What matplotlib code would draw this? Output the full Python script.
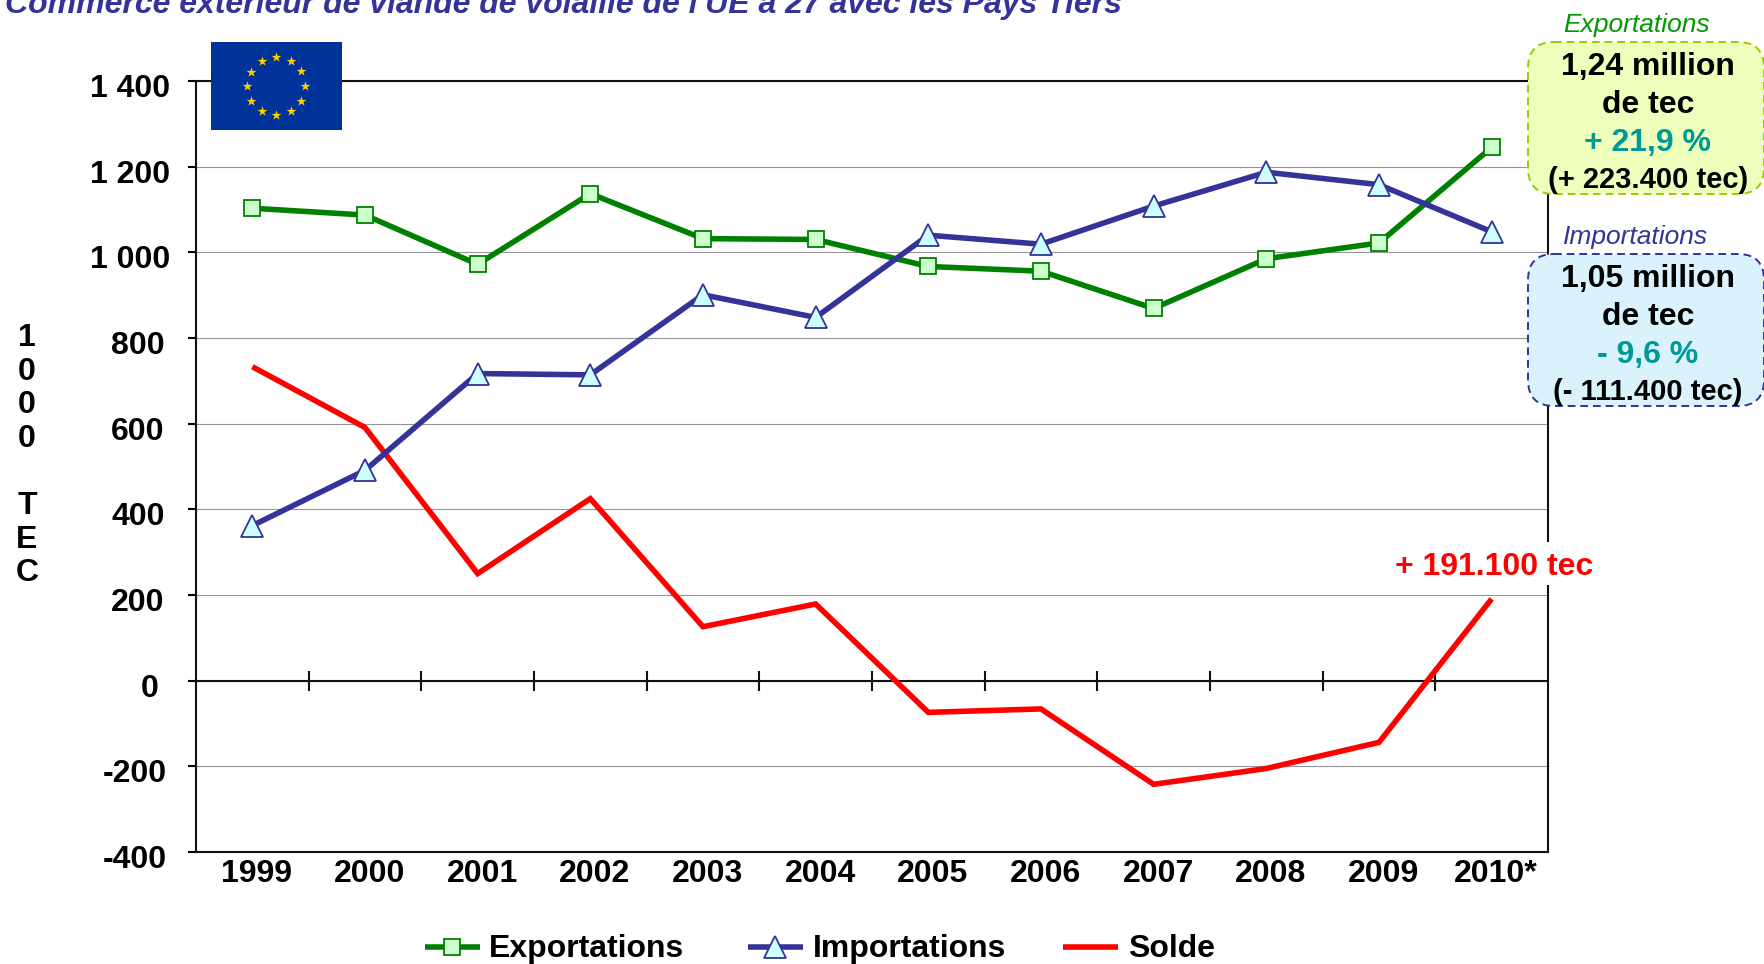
import numpy as np
import matplotlib
matplotlib.use('Agg')
import matplotlib.pyplot as plt
from matplotlib.patches import FancyBboxPatch, Rectangle
from matplotlib.lines import Line2D
from matplotlib.transforms import ScaledTranslation

plt.rcParams['font.family'] = ['Liberation Sans', 'DejaVu Sans']
plt.rcParams['font.weight'] = 'bold'

# ============= data =============
years = ['1999', '2000', '2001', '2002', '2003', '2004', '2005', '2006', '2007', '2008', '2009', '2010*']
exportations = [1103, 1087, 972, 1137, 1032, 1030, 967, 956, 869, 985, 1022, 1245]
importations = [362, 491, 717, 714, 901, 848, 1040, 1019, 1108, 1187, 1158, 1048]
solde = [733, 591, 250, 425, 126, 179, -74, -66, -242, -205, -144, 191]
y_ticks = [-400, -200, 0, 200, 400, 600, 800, 1000, 1200, 1400]
y_labels = ['-400', '-200', '0', '200', '400', '600', '800', '1 000', '1 200', '1 400']

# horizontal nudge of each y label, pixels (the original labels are not right aligned)
y_nudge = [2, 2, -6.5, 0, 0, 0, 0, 5.5, 5.5, 5.5]

W, H = 1764, 964
GREEN = '#008000'
BLUE = '#333399'
RED = '#ff0000'
TEAL = '#009999'
LW = 4.0

fig = plt.figure(figsize=(W / 100, H / 100), dpi=100)

# main axes, placed in pixels
left, right, top, bottom = 196, 1548, 81, 852
ax = fig.add_axes([left / W, 1 - bottom / H, (right - left) / W, (bottom - top) / H])
x = np.arange(len(years))
ax.set_xlim(-0.5, len(years) - 0.5)
ax.set_ylim(-400, 1400)

ax.yaxis.grid(True, color='#959595', linewidth=0.8)
ax.set_axisbelow(True)
for s in ['top', 'right', 'left', 'bottom']:
    ax.spines[s].set_linewidth(1.5)
    ax.spines[s].set_color('#111111')

ax.set_yticks(y_ticks)
ax.set_yticklabels(y_labels, fontsize=23, fontweight='bold')
ax.tick_params(axis='y', length=5.5, width=1.5, pad=17)
ax.set_xticks(x)
ax.set_xticklabels(years, fontsize=23, fontweight='bold')
ax.tick_params(axis='x', length=0, pad=5)

# labels sit a little off their ticks in the original
for lbl, dx in zip(ax.get_yticklabels(), y_nudge):
    lbl.set_transform(lbl.get_transform() + ScaledTranslation(dx / 100, -4.5 / 100, fig.dpi_scale_trans))
for lbl in ax.get_xticklabels():
    lbl.set_transform(lbl.get_transform() + ScaledTranslation(4.5 / 100, 0, fig.dpi_scale_trans))

# zero line with its ticks between the categories
ax.axhline(0, color='#111111', linewidth=1.5, zorder=2)
for b in np.arange(0.5, len(years) - 1):
    ax.plot([b, b], [-21, 21], color='#111111', linewidth=1.5, zorder=2)

ax.plot(x, exportations, color=GREEN, linewidth=LW, marker='s', markersize=11.5,
        markerfacecolor='#ccffcc', markeredgecolor=GREEN, markeredgewidth=1.3, zorder=4, clip_on=False)
ax.plot(x, importations, color=BLUE, linewidth=LW, marker='^', markersize=16.5,
        markerfacecolor='#ccffff', markeredgecolor=BLUE, markeredgewidth=1.3, zorder=5, clip_on=False)
ax.plot(x, solde, color=RED, linewidth=LW, zorder=3, solid_capstyle='butt', solid_joinstyle='miter')

# overlay in pixel coordinates for everything around the chart
ov = fig.add_axes([0, 0, 1, 1], zorder=10)
ov.set_xlim(0, W)
ov.set_ylim(H, 0)
ov.axis('off')

ov.text(5, 13, "Commerce extérieur de viande de volaille de l'UE à 27 avec les Pays Tiers",
        color=BLUE, fontsize=23, fontstyle='italic', fontweight='bold', va='baseline')

# flag
ov.add_patch(Rectangle((211, 42), 131, 88, facecolor='#003399', edgecolor='none'))
ang = np.deg2rad(np.arange(0, 360, 30))
ov.scatter(276 + 29 * np.cos(ang), 86 + 29 * np.sin(ang), marker='*', s=56, color='#ffcc00', linewidths=0)

# stacked axis label
for ch, yy in zip('1000', [338, 372, 405, 439]):
    ov.text(27, yy, ch, fontsize=23, ha='center', va='center', fontweight='bold')
for ch, yy in zip('TEC', [506, 540, 573]):
    ov.text(27, yy, ch, fontsize=23, ha='center', va='center', fontweight='bold')

# white patch of the label cuts the right axis line
ov.add_patch(Rectangle((1400, 542), 200, 43, facecolor='white', edgecolor='none'))
ov.text(1494, 567, '+ 191.100 tec', color=RED, fontsize=23, ha='center', va='center', fontweight='bold')


def info_box(y0, y1, fc, ec, title, title_color, lines):
    ov.add_patch(FancyBboxPatch((1548, y0 + 20), 196, y1 - y0 - 40,
                                boxstyle='round,pad=20,rounding_size=26', facecolor=fc, edgecolor=ec,
                                linewidth=1.4, linestyle=(0, (4, 2.5)), zorder=6))
    ov.text(1636, y0 - 17, title, color=title_color, fontsize=19, fontstyle='italic',
            fontweight='normal', ha='center', va='center', zorder=7)
    for txt, col, fs, dy in lines:
        ov.text(1648, y0 + dy, txt, color=col, fontsize=fs, ha='center', va='center', fontweight='bold', zorder=7)


info_box(42, 194, '#eeffbb', '#99cc00', 'Exportations', '#009900',
         [('1,24 million', 'black', 23, 25), ('de tec', 'black', 23, 63),
          ('+ 21,9 %', TEAL, 23, 101), ('(+ 223.400 tec)', 'black', 21, 138)])
info_box(254, 406, '#d9f2fc', BLUE, 'Importations', BLUE,
         [('1,05 million', 'black', 23, 25), ('de tec', 'black', 23, 63),
          ('- 9,6 %', TEAL, 23, 101), ('(- 111.400 tec)', 'black', 21, 138)])

# legend built by hand to keep the exact spacing
handles = [
    (425, 489, 'Exportations', dict(color=GREEN, marker='s', markersize=11.5, markerfacecolor='#ccffcc',
                                    markeredgecolor=GREEN, markeredgewidth=1.3)),
    (748, 813, 'Importations', dict(color=BLUE, marker='^', markersize=16.5, markerfacecolor='#ccffff',
                                    markeredgecolor=BLUE, markeredgewidth=1.3)),
    (1063, 1128, 'Solde', dict(color=RED)),
]
for x0, xt, label, style in handles:
    ov.add_line(Line2D([x0, x0 + 27, x0 + 55], [947, 947, 947], linewidth=LW, markevery=[1],
                       solid_capstyle='butt', **style))
    ov.text(xt, 949, label, fontsize=23, va='center', fontweight='bold')

fig.savefig('out.png', dpi=100)
